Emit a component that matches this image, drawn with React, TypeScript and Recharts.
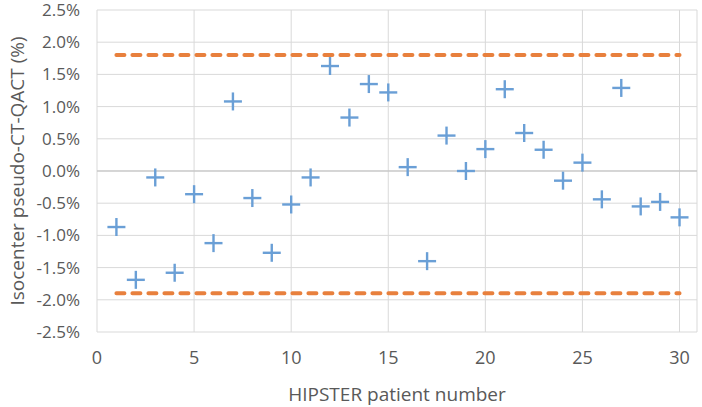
import React from 'react';
import { ScatterChart, Scatter, XAxis, YAxis, CartesianGrid, ReferenceLine } from 'recharts';

// patient numbers and isocenter deviation (%)
const PATIENTS = [1, 2, 3, 4, 5, 6, 7, 8, 9, 10, 11, 12, 13, 14, 15, 16, 17, 18, 19, 20, 21, 22, 23, 24, 25, 26, 27, 28, 29, 30];
const DEVIATION = [-0.87, -1.69, -0.10, -1.58, -0.36, -1.12, 1.08, -0.42, -1.27, -0.52, -0.10, 1.63, 0.83, 1.35, 1.22, 0.06, -1.40, 0.55, 0.0, 0.34, 1.27, 0.59, 0.33, -0.15, 0.13, -0.44, 1.29, -0.55, -0.48, -0.72];
const X_TICKS = [0, 5, 10, 15, 20, 25, 30];
const Y_TICKS = [-2.5, -2, -1.5, -1, -0.5, 0, 0.5, 1, 1.5, 2, 2.5];
const UPPER_LIMIT = 1.8;
const LOWER_LIMIT = -1.9;
const LIMIT_RANGE = [1, 30];

const data = PATIENTS.map((p, i) => ({ x: p, y: DEVIATION[i] }));

const FONT = '"Open Sans", sans-serif';
const TEXT = '#595959';

const Cross = (props: any) => {
  const { cx, cy } = props;
  if (cx == null || cy == null) return null;
  const r = 9;
  return (
    <g stroke="#6a9fd6" strokeWidth={2.4}>
      <line x1={cx - r} y1={cy} x2={cx + r} y2={cy} />
      <line x1={cx} y1={cy - r} x2={cx} y2={cy + r} />
    </g>
  );
};

export default function App() {
  return (
    <div style={{ position: 'absolute', left: 0, top: 0, background: '#fff' }}>
      <ScatterChart width={702} height={407} margin={{ top: 10, right: 5, bottom: 0, left: 0 }}>
        <CartesianGrid stroke="#d9d9d9" strokeWidth={1} />
        <XAxis
          type="number"
          dataKey="x"
          height={75}
          domain={[0, 30.9]}
          ticks={X_TICKS}
          axisLine={false}
          tickLine={false}
          tickMargin={13}
          tick={{ fill: TEXT, fontSize: 18, fontFamily: FONT }}
          label={{ value: 'HIPSTER patient number', position: 'insideBottom', offset: 6, fill: TEXT, fontSize: 19, fontFamily: FONT }}
        />
        <YAxis
          type="number"
          dataKey="y"
          width={97}
          domain={[-2.5, 2.5]}
          ticks={Y_TICKS}
          axisLine={false}
          tickLine={false}
          tickMargin={11}
          tickFormatter={(v: number) => `${v.toFixed(1)}%`}
          tick={{ fill: TEXT, fontSize: 17, fontFamily: FONT }}
          label={{ value: 'Isocenter pseudo-CT-QACT (%)', angle: -90, position: 'insideLeft', offset: 17, style: { textAnchor: 'middle' }, fill: TEXT, fontSize: 19, fontFamily: FONT }}
        />
        <ReferenceLine y={0} stroke="#bfbfbf" />
        <ReferenceLine
          segment={[{ x: LIMIT_RANGE[0], y: UPPER_LIMIT }, { x: LIMIT_RANGE[1], y: UPPER_LIMIT }]}
          stroke="#e8803d"
          strokeWidth={4}
          strokeDasharray="8 8"
          strokeLinecap="round"
        />
        <ReferenceLine
          segment={[{ x: LIMIT_RANGE[0], y: LOWER_LIMIT }, { x: LIMIT_RANGE[1], y: LOWER_LIMIT }]}
          stroke="#e8803d"
          strokeWidth={4}
          strokeDasharray="8 8"
          strokeLinecap="round"
        />
        <Scatter data={data} shape={<Cross />} isAnimationActive={false} />
      </ScatterChart>
    </div>
  );
}
